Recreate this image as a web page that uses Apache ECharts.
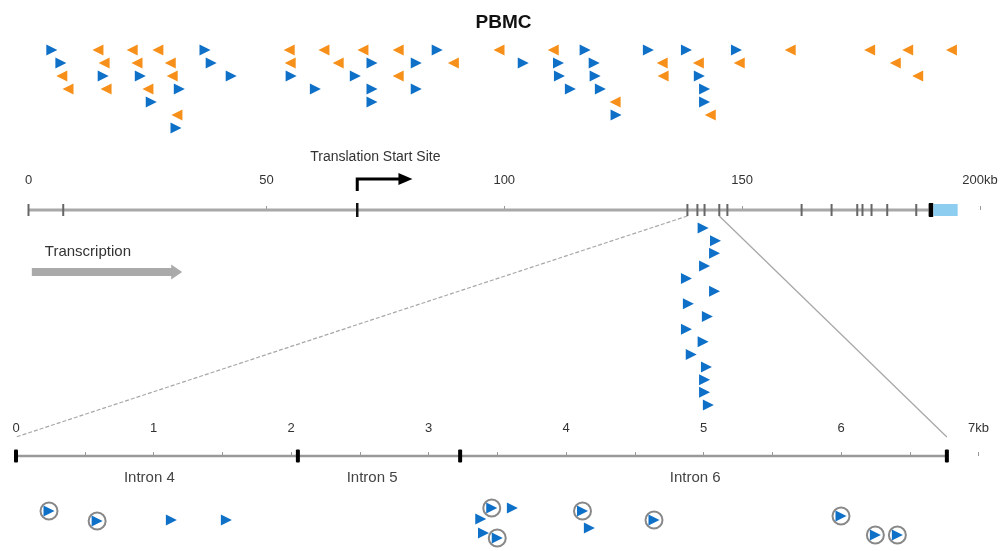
<!DOCTYPE html>
<html><head><meta charset="utf-8">
<script src="https://cdn.jsdelivr.net/npm/echarts@6/dist/echarts.min.js"></script>
<style>html,body{margin:0;padding:0;background:#fff}#c{width:1007px;height:551px}</style>
</head><body><div id="c"></div>
<script>
// ---------- DATA ----------
const title = 'PBMC';
// top gene scale (kb)
const geneTicks = [0, 50, 100, 150, 200];
// insertion sites above the gene, per row (kb); plus strand = blue right-pointing
const plusRows = [
  [4.9, 37.1, 85.9, 117.0, 130.3, 138.3, 148.8],
  [6.8, 38.4, 72.2, 81.5, 104.0, 111.4, 118.9],
  [15.7, 23.5, 42.6, 55.2, 68.7, 111.6, 119.1, 141.0],
  [31.7, 60.3, 72.2, 81.5, 113.9, 120.2, 142.1],
  [25.8, 72.2, 142.1],
  [123.5],
  [31.0]
];
// minus strand = orange left-pointing
const minusRows = [
  [14.6, 21.8, 27.2, 54.8, 62.1, 70.3, 77.7, 98.9, 110.3, 160.1, 176.8, 184.8, 194.0],
  [15.9, 22.8, 29.8, 55.0, 65.1, 89.3, 133.2, 140.8, 149.4, 182.2],
  [7.0, 30.2, 77.7, 133.4, 186.9],
  [8.3, 16.3, 25.1],
  [123.3],
  [31.2, 143.3],
  []
];
// cluster of plus-strand sites drawn below the gene (one per row, kb)
const clusterSites = [141.8, 144.4, 144.2, 142.1, 138.3, 144.2, 138.7, 142.7, 138.3, 141.8, 139.3, 142.5, 142.1, 142.1, 142.9];
// gene structure (kb)
const geneSpan = [0, 189.2];
const exons = [0, 7.3, 138.5, 140.6, 142.1, 145.2, 146.9, 162.5, 168.8, 174.2, 175.3, 177.2, 180.5, 186.6];
const translationStart = 69.1;
const lastCodingExon = [189.2, 190.2];
const utr3 = [190.2, 195.3];
const zoomedRegion = [138.5, 145.2];
const transcriptionArrow = [0.7, 32.3];
// zoomed scale (kb)
const detailTicks = [0, 0.5, 1, 1.5, 2, 2.5, 3, 3.5, 4, 4.5, 5, 5.5, 6, 6.5, 7];
const intronBounds = [0, 2.05, 3.23, 6.77];
const intronNames = ['Intron 4', 'Intron 5', 'Intron 6'];
const intronLabelAt = [0.97, 2.59, 4.94];
// detail sites [kb, lane]
const detailPlain = [[1.13, 0.96], [1.53, 0.96], [3.38, 0.88], [3.61, 0], [3.40, 2.0], [4.17, 1.6]];
const detailCircled = [[0.24, 0.24], [0.59, 1.04], [3.46, 0], [3.50, 2.4], [4.12, 0.24], [4.64, 0.96], [6.0, 0.64], [6.25, 2.16], [6.41, 2.16]];

// ---------- STYLE ----------
const BLUE = '#0f70c8', ORANGE = '#f7901a', FONT = 'Liberation Sans, Arial, sans-serif';
const chart = echarts.init(document.getElementById('c'), null, {renderer: 'canvas'});

const rowsToPts = rows => rows.flatMap((r, i) => r.map(k => [k, i]));
const hiddenY = (min, max, inverse) => ({type: 'value', min, max, inverse: !!inverse, show: false});
const hiddenX = (gi, min, max) => ({type: 'value', gridIndex: gi, min, max, show: false});
const tri = (color, rot) => ({symbol: 'triangle', symbolSize: [11, 11], symbolRotate: rot, itemStyle: {color, opacity: 1}, emphasis: {disabled: true}});

const option = {
  animation: false,
  title: {text: title, left: 'center', top: 8, textStyle: {fontFamily: FONT, fontSize: 19, fontWeight: 'bold', color: '#111'}},
  grid: [
    {left: 28.5, right: 27, top: 43.5, height: 91},      // 0 top rows
    {left: 28.5, right: 27, top: 198, height: 24},       // 1 gene track
    {left: 28.5, right: 27, top: 221.7, height: 189.6},  // 2 cluster
    {left: 16, right: 28.5, top: 444, height: 24},       // 3 detail track
    {left: 16, right: 28.5, top: 495.5, height: 50}      // 4 detail sites
  ],
  xAxis: [
    hiddenX(0, 0, 200),
    {type: 'value', gridIndex: 1, min: 0, max: 200, interval: 50, position: 'top',
      axisLine: {show: false}, splitLine: {show: false},
      axisTick: {show: true, length: 4, lineStyle: {color: '#999', width: 1}},
      axisLabel: {margin: 11, fontFamily: FONT, fontSize: 13, color: '#333',
        formatter: v => geneTicks.includes(v) ? (v === 200 ? '200kb' : String(v)) : ''}},
    hiddenX(2, 0, 200),
    {type: 'value', gridIndex: 3, min: 0, max: 7, interval: 0.5, position: 'top',
      axisLine: {show: false}, splitLine: {show: false},
      axisTick: {show: true, length: 4, lineStyle: {color: '#999', width: 1}},
      axisLabel: {margin: 9, fontFamily: FONT, fontSize: 13, color: '#333', showMinLabel: true, showMaxLabel: true,
        formatter: v => (detailTicks.includes(v) && Number.isInteger(v)) ? (v === 7 ? '7kb' : String(v)) : ''}},
    hiddenX(4, 0, 7)
  ],
  yAxis: [
    Object.assign(hiddenY(-0.5, 6.5, true), {gridIndex: 0}),
    Object.assign(hiddenY(-1, 1), {gridIndex: 1}),
    Object.assign(hiddenY(-0.5, 14.5, true), {gridIndex: 2}),
    Object.assign(hiddenY(-1, 1), {gridIndex: 3}),
    Object.assign(hiddenY(-1, 3, true), {gridIndex: 4})
  ],
  series: [
    Object.assign({type: 'scatter', xAxisIndex: 0, yAxisIndex: 0, data: rowsToPts(plusRows)}, tri(BLUE, -90)),
    Object.assign({type: 'scatter', xAxisIndex: 0, yAxisIndex: 0, data: rowsToPts(minusRows)}, tri(ORANGE, 90)),
    Object.assign({type: 'scatter', xAxisIndex: 2, yAxisIndex: 2, data: clusterSites.map((k, i) => [k, i])}, tri(BLUE, -90)),
    // gene line
    {type: 'line', xAxisIndex: 1, yAxisIndex: 1, data: geneSpan.map(k => [k, 0]), symbol: 'none', lineStyle: {color: '#a8a8a8', width: 3}, z: 1},
    // exons
    {type: 'custom', xAxisIndex: 1, yAxisIndex: 1, clip: false, z: 3, data: exons.map(k => [k, 0]),
      renderItem: (p, api) => { const c = api.coord([api.value(0), 0]); return {type: 'rect', shape: {x: c[0] - 1, y: c[1] - 6, width: 2, height: 12}, style: {fill: '#666'}}; }},
    // last exon + UTR
    {type: 'custom', xAxisIndex: 1, yAxisIndex: 1, clip: false, z: 3, data: [[lastCodingExon[0], lastCodingExon[1], 0], [utr3[0], utr3[1], 1]],
      renderItem: (p, api) => {
        const a = api.coord([api.value(0), 0]), b = api.coord([api.value(1), 0]); const isUtr = api.value(2) === 1;
        return isUtr ? {type: 'rect', shape: {x: a[0], y: a[1] - 6, width: b[0] - a[0], height: 12}, style: {fill: '#8ccdf0'}}
                     : {type: 'rect', shape: {x: a[0], y: a[1] - 7, width: b[0] - a[0], height: 14, r: 1}, style: {fill: '#000'}};
      }},
    // translation start
    {type: 'custom', xAxisIndex: 1, yAxisIndex: 1, clip: false, z: 4, data: [[translationStart, 0]],
      renderItem: (p, api) => {
        const c = api.coord([api.value(0), 0]); const e = api.coord([api.value(0) + 11.6, 0]);
        const yTop = c[1] - 31;
        return {type: 'group', children: [
          {type: 'rect', shape: {x: c[0] - 1.25, y: c[1] - 7, width: 2.5, height: 14}, style: {fill: '#111'}},
          {type: 'polyline', shape: {points: [[c[0], c[1] - 19], [c[0], yTop], [e[0] - 12, yTop]]}, style: {stroke: '#000', lineWidth: 3, fill: null}},
          {type: 'polygon', shape: {points: [[e[0] - 14, yTop - 6], [e[0], yTop], [e[0] - 14, yTop + 6]]}, style: {fill: '#000'}},
          {type: 'text', style: {text: 'Translation Start Site', x: api.coord([72.9, 0])[0], y: c[1] - 53, align: 'center', verticalAlign: 'middle', font: '14px ' + FONT, fill: '#333'}}
        ]};
      }},
    // transcription arrow
    {type: 'custom', xAxisIndex: 1, yAxisIndex: 1, clip: false, z: 4, data: [[transcriptionArrow[0], transcriptionArrow[1]]],
      renderItem: (p, api) => {
        const a = api.coord([api.value(0), 0]), b = api.coord([api.value(1), 0]); const y = a[1] + 62;
        return {type: 'group', children: [
          {type: 'rect', shape: {x: a[0], y: y - 4, width: b[0] - a[0] - 10, height: 8}, style: {fill: '#aaa'}},
          {type: 'polygon', shape: {points: [[b[0] - 11, y - 7.5], [b[0], y], [b[0] - 11, y + 7.5]]}, style: {fill: '#aaa'}},
          {type: 'text', style: {text: 'Transcription', x: a[0] + 13, y: y - 20, align: 'left', verticalAlign: 'middle', font: '15px ' + FONT, fill: '#333'}}
        ]};
      }},
    // detail line
    {type: 'line', xAxisIndex: 3, yAxisIndex: 3, data: [[intronBounds[0], 0], [intronBounds[intronBounds.length - 1], 0]], symbol: 'none', lineStyle: {color: '#999', width: 2.5}, z: 1},
    {type: 'custom', xAxisIndex: 3, yAxisIndex: 3, clip: false, z: 3, data: intronBounds.map(k => [k, 0]),
      renderItem: (p, api) => { const c = api.coord([api.value(0), 0]); return {type: 'rect', shape: {x: c[0] - 2, y: c[1] - 6.5, width: 4, height: 13, r: 1}, style: {fill: '#000'}}; }},
    {type: 'custom', xAxisIndex: 3, yAxisIndex: 3, clip: false, z: 3, data: intronLabelAt.map((k, i) => [k, 0, i]),
      renderItem: (p, api) => { const c = api.coord([api.value(0), 0]); return {type: 'text', style: {text: intronNames[api.value(2)], x: c[0], y: c[1] + 22, align: 'center', verticalAlign: 'middle', font: '15px ' + FONT, fill: '#444'}}; }},
    // detail sites
    {type: 'scatter', xAxisIndex: 4, yAxisIndex: 4, data: detailCircled, symbol: 'circle', symbolSize: 17, itemStyle: {color: '#fff', borderColor: '#888', borderWidth: 2, opacity: 1}, emphasis: {disabled: true}, z: 2},
    Object.assign({type: 'scatter', xAxisIndex: 4, yAxisIndex: 4, data: detailCircled.concat(detailPlain), z: 3}, tri(BLUE, -90))
  ]
};
chart.setOption(option);

// zoom connector lines, positioned through the axes
const p1 = chart.convertToPixel({xAxisIndex: 1, yAxisIndex: 1}, [zoomedRegion[0], 0]);
const p2 = chart.convertToPixel({xAxisIndex: 1, yAxisIndex: 1}, [zoomedRegion[1], 0]);
const q1 = chart.convertToPixel({xAxisIndex: 3, yAxisIndex: 3}, [intronBounds[0], 0]);
const q2 = chart.convertToPixel({xAxisIndex: 3, yAxisIndex: 3}, [intronBounds[intronBounds.length - 1], 0]);
chart.setOption({graphic: [
  {type: 'line', shape: {x1: p1[0], y1: p1[1] + 6, x2: q1[0], y2: q1[1] - 19}, style: {stroke: '#a8a8a8', lineWidth: 1.2, lineDash: [4, 2]}, z: 0},
  {type: 'line', shape: {x1: p2[0], y1: p2[1] + 6, x2: q2[0], y2: q2[1] - 19}, style: {stroke: '#a8a8a8', lineWidth: 1.3}, z: 0}
]});
</script></body></html>
